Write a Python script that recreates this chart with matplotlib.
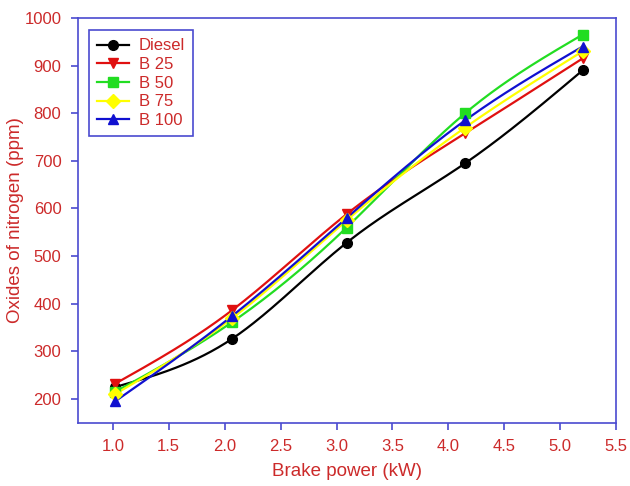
import matplotlib
matplotlib.use("Agg")
import matplotlib.pyplot as plt
import numpy as np

plt.rcParams['font.family'] = ['Liberation Sans', 'DejaVu Sans']

power = [1.02, 2.07, 3.09, 4.15, 5.2]
diesel = [225, 327, 528, 695, 890]
b25 = [232, 387, 588, 758, 915]
b50 = [215, 362, 560, 800, 965]
b75 = [210, 370, 575, 770, 930]
b100 = [195, 375, 580, 785, 940]

series = [
    ("Diesel", diesel, "black", "o"),
    ("B 25", b25, "#e01010", "v"),
    ("B 50", b50, "#22dd22", "s"),
    ("B 75", b75, "#ffff00", "D"),
    ("B 100", b100, "#1010d0", "^"),
]

text_red = "#cc2a2a"
axis_blue = "#4a4ad0"


def natural_spline(x, y, n=200):
    # natural cubic spline through the points, for smooth curves
    x = np.asarray(x, float)
    y = np.asarray(y, float)
    k = len(x)
    h = np.diff(x)
    A = np.zeros((k, k))
    r = np.zeros(k)
    A[0, 0] = A[-1, -1] = 1
    for i in range(1, k - 1):
        A[i, i - 1] = h[i - 1]
        A[i, i] = 2 * (h[i - 1] + h[i])
        A[i, i + 1] = h[i]
        r[i] = 6 * ((y[i + 1] - y[i]) / h[i] - (y[i] - y[i - 1]) / h[i - 1])
    m = np.linalg.solve(A, r)
    xs = np.linspace(x[0], x[-1], n)
    idx = np.clip(np.searchsorted(x, xs) - 1, 0, k - 2)
    x0, x1 = x[idx], x[idx + 1]
    hh = x1 - x0
    t0, t1 = x1 - xs, xs - x0
    ys = (m[idx] * t0**3 + m[idx + 1] * t1**3) / (6 * hh) \
        + (y[idx] / hh - m[idx] * hh / 6) * t0 \
        + (y[idx + 1] / hh - m[idx + 1] * hh / 6) * t1
    return xs, ys


fig = plt.figure(figsize=(6.3, 4.86), dpi=100)
ax = fig.add_axes([0.124, 0.13, 0.854, 0.833])

for name, vals, col, mk in series:
    xs, ys = natural_spline(power, vals)
    ax.plot(xs, ys, color=col, lw=1.6, zorder=2)
    ax.plot(power, vals, color=col, marker=mk, ms=7, lw=0, zorder=3)
    ax.plot([], [], color=col, marker=mk, ms=7, lw=1.6, label=name)

ax.set_xlim(0.69, 5.5)
ax.set_ylim(150, 1000)
ax.set_xticks(np.arange(1.0, 5.51, 0.5))
ax.set_yticks(np.arange(200, 1001, 100))

for s in ax.spines.values():
    s.set_color(axis_blue)
    s.set_linewidth(1.2)
ax.tick_params(direction="out", colors=axis_blue, labelcolor=text_red,
               labelsize=12, length=5, width=1.2, pad=7)
ax.tick_params(top=False, right=False)

ax.set_xlabel("Brake power (kW)", color=text_red, fontsize=13.5)
ax.set_ylabel("Oxides of nitrogen (ppm)", color=text_red, fontsize=13.5)
ax.xaxis.set_label_coords(0.5, -0.1)
ax.yaxis.set_label_coords(-0.1, 0.5)

leg = ax.legend(loc="upper left", bbox_to_anchor=(0.02, 0.97), borderaxespad=0,
                fancybox=False, framealpha=1, handlelength=1.9, handletextpad=0.6,
                borderpad=0.5, labelspacing=0.22, prop={'size': 12})
leg.get_frame().set_edgecolor(axis_blue)
leg.get_frame().set_linewidth(1.2)
for t in leg.get_texts():
    t.set_color(text_red)

fig.savefig("out.png", dpi=100)
